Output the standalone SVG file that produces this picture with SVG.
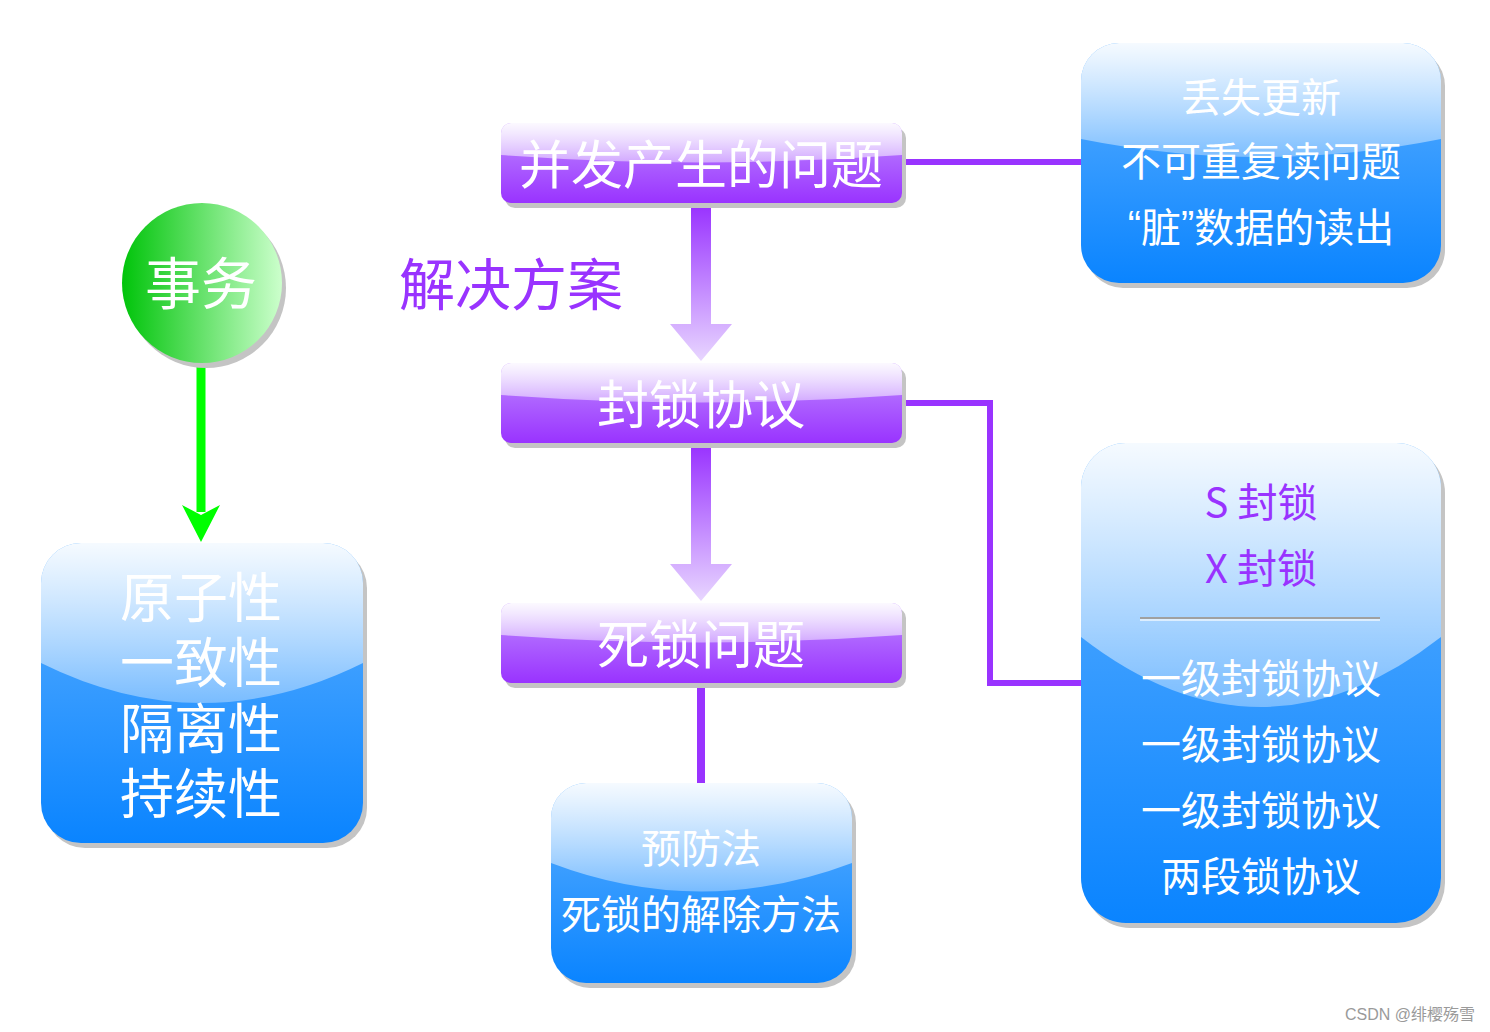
<svg xmlns="http://www.w3.org/2000/svg" width="1490" height="1032" viewBox="0 0 1490 1032">
<defs>
<linearGradient id="blueBase" x1="0" y1="0" x2="0" y2="1"><stop offset="0" stop-color="#5eb0ff"/><stop offset="1" stop-color="#0a84ff"/></linearGradient>
<linearGradient id="blueGloss" x1="0" y1="0" x2="0" y2="1"><stop offset="0" stop-color="#ffffff" stop-opacity="0.94"/><stop offset="1" stop-color="#ffffff" stop-opacity="0.35"/></linearGradient>
<linearGradient id="purpleBase" x1="0" y1="0" x2="0" y2="1"><stop offset="0" stop-color="#c08cff"/><stop offset="1" stop-color="#9933ff"/></linearGradient>
<linearGradient id="purpleGloss" x1="0" y1="0" x2="0" y2="1"><stop offset="0" stop-color="#ffffff" stop-opacity="0.95"/><stop offset="1" stop-color="#ffffff" stop-opacity="0.45"/></linearGradient>
<linearGradient id="greenBall" x1="0" y1="0" x2="1" y2="0"><stop offset="0" stop-color="#00c40a"/><stop offset="1" stop-color="#ccffcc"/></linearGradient>
<linearGradient id="arrowGrad" x1="0" y1="0" x2="0" y2="1"><stop offset="0" stop-color="#9933ff"/><stop offset="1" stop-color="#e8d6ff"/></linearGradient>
<style>
.shadow{fill:#c4c4c4}
.t{font-family:"Noto Sans CJK SC","Liberation Sans",sans-serif;text-anchor:middle;dominant-baseline:central}
.w{fill:#ffffff}
.p{fill:#9933ff}
.q{font-family:"Liberation Sans",sans-serif}
.conn{fill:none;stroke:#9933ff;stroke-width:6}
</style>
</defs>

<g id="connectors">
<line x1="201" y1="363" x2="201" y2="512" stroke="#00ff00" stroke-width="9"/>
<polygon points="182,505 201,515 220,505 201,542" fill="#00ff00"/>
<polygon points="691,206 711,206 711,324 732,324 701,361 670,324 691,324" fill="url(#arrowGrad)"/>
<polygon points="691,446 711,446 711,564 732,564 701,601 670,564 691,564" fill="url(#arrowGrad)"/>
<line class="conn" x1="902" y1="162" x2="1082" y2="162"/>
<polyline class="conn" points="902,403 990,403 990,683 1082,683"/>
<line x1="701" y1="683" x2="701" y2="783" stroke="#9933ff" stroke-width="8"/>
</g>

<g id="node-bingfa">
<rect class="shadow" x="505" y="128" width="401" height="80" rx="10"/>
<rect x="501" y="123" width="401" height="80" rx="10" fill="url(#purpleBase)"/>
<path d="M501,133 A10,10 0 0 1 511,123 H892 A10,10 0 0 1 902,133 V155 Q701,170 501,155 Z" fill="url(#purpleGloss)"/>
<text class="t w" x="701" y="161" font-size="52">并发产生的问题</text>
</g>

<g id="node-fengsuo">
<rect class="shadow" x="505" y="368" width="401" height="80" rx="10"/>
<rect x="501" y="363" width="401" height="80" rx="10" fill="url(#purpleBase)"/>
<path d="M501,373 A10,10 0 0 1 511,363 H892 A10,10 0 0 1 902,373 V395 Q701,410 501,395 Z" fill="url(#purpleGloss)"/>
<text class="t w" x="701" y="401" font-size="52">封锁协议</text>
</g>

<g id="node-sisuo">
<rect class="shadow" x="505" y="608" width="401" height="80" rx="10"/>
<rect x="501" y="603" width="401" height="80" rx="10" fill="url(#purpleBase)"/>
<path d="M501,613 A10,10 0 0 1 511,603 H892 A10,10 0 0 1 902,613 V635 Q701,650 501,635 Z" fill="url(#purpleGloss)"/>
<text class="t w" x="701" y="641" font-size="52">死锁问题</text>
</g>

<g id="label-jiejue">
<text class="t p" x="511" y="280" font-size="56">解决方案</text>
</g>

<g id="node-shiwu">
<circle class="shadow" cx="206" cy="288" r="80"/>
<circle cx="202" cy="283" r="80" fill="url(#greenBall)"/>
<text class="t w" x="201" y="279" font-size="56">事务</text>
</g>

<g id="node-acid">
<rect class="shadow" x="45" y="548" width="322" height="300" rx="40"/>
<rect x="41" y="543" width="322" height="300" rx="40" fill="url(#blueBase)"/>
<path d="M41,583 A40,40 0 0 1 81,543 H323 A40,40 0 0 1 363,583 V663 Q202,743 41,663 Z" fill="url(#blueGloss)"/>
<text class="t w" x="201" y="594" font-size="54">原子性</text>
<text class="t w" x="201" y="659" font-size="54">一致性</text>
<text class="t w" x="201" y="725" font-size="54">隔离性</text>
<text class="t w" x="201" y="790" font-size="54">持续性</text>
</g>

<g id="node-problems">
<rect class="shadow" x="1085" y="48" width="360" height="240" rx="38"/>
<rect x="1081" y="43" width="360" height="240" rx="38" fill="url(#blueBase)"/>
<path d="M1081,81 A38,38 0 0 1 1119,43 H1403 A38,38 0 0 1 1441,81 V139 Q1261,175 1081,139 Z" fill="url(#blueGloss)"/>
<text class="t w" x="1261" y="95" font-size="40">丢失更新</text>
<text class="t w" x="1261" y="159" font-size="40">不可重复读问题</text>
<text class="t w" x="1261" y="225" font-size="40"><tspan class="q">“</tspan>脏<tspan class="q">”</tspan>数据的读出</text>
</g>

<g id="node-locks">
<rect class="shadow" x="1085" y="448" width="360" height="480" rx="45"/>
<rect x="1081" y="443" width="360" height="480" rx="45" fill="url(#blueBase)"/>
<path d="M1081,488 A45,45 0 0 1 1126,443 H1396 A45,45 0 0 1 1441,488 V637 Q1261,777 1081,637 Z" fill="url(#blueGloss)"/>
<text class="t p" x="1261" y="500" font-size="40">S 封锁</text>
<text class="t p" x="1261" y="566" font-size="40">X 封锁</text>
<line x1="1140" y1="618" x2="1380" y2="618" stroke="#a0a0a0" stroke-width="2"/>
<line x1="1140" y1="620" x2="1380" y2="620" stroke="#ffffff" stroke-width="1.5" stroke-opacity="0.8"/>
<text class="t w" x="1261" y="676" font-size="40">一级封锁协议</text>
<text class="t w" x="1261" y="742" font-size="40">一级封锁协议</text>
<text class="t w" x="1261" y="808" font-size="40">一级封锁协议</text>
<text class="t w" x="1261" y="874" font-size="40">两段锁协议</text>
</g>

<g id="node-deadlock">
<rect class="shadow" x="555" y="788" width="301" height="200" rx="35"/>
<rect x="551" y="783" width="301" height="200" rx="35" fill="url(#blueBase)"/>
<path d="M551,818 A35,35 0 0 1 586,783 H817 A35,35 0 0 1 852,818 V863 Q701,920 551,863 Z" fill="url(#blueGloss)"/>
<text class="t w" x="701" y="846" font-size="40">预防法</text>
<text class="t w" x="701" y="912" font-size="40">死锁的解除方法</text>
</g>

<text x="1475" y="1020" font-family="'Liberation Sans','Noto Sans CJK SC',sans-serif" font-size="16" fill="#9a9a9a" text-anchor="end">CSDN @绯樱殇雪</text>
</svg>
